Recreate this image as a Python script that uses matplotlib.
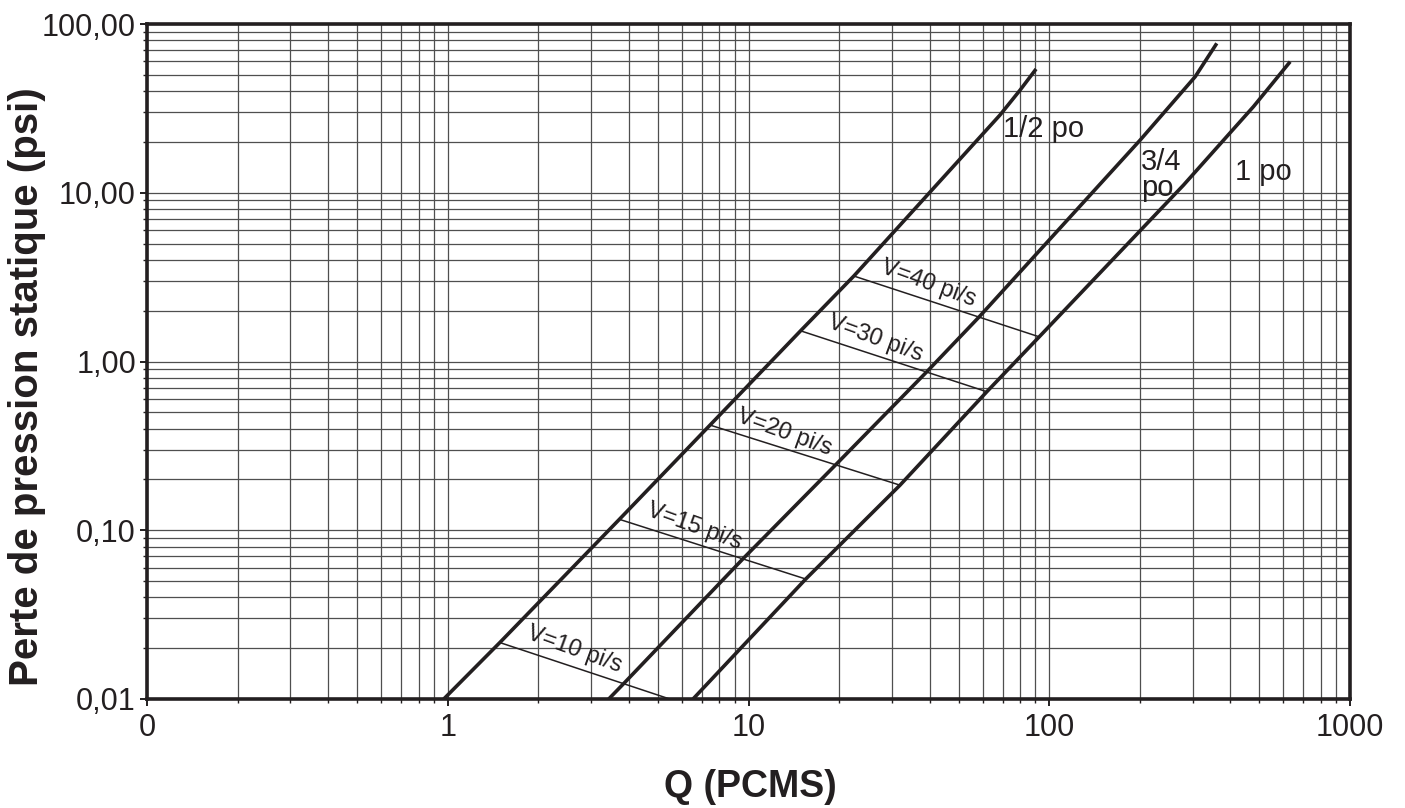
import matplotlib
matplotlib.use("Agg")
import matplotlib.pyplot as plt
from matplotlib.ticker import FixedLocator, LogLocator, NullFormatter

plt.rcParams['font.family'] = ['Liberation Sans', 'DejaVu Sans']

# ---- data ----
q_half = [0.97, 1.49, 3.72, 7.45, 14.9, 22.4, 68.6, 80.0, 90.4]
p_half = [0.01, 0.0216, 0.116, 0.42, 1.52, 3.21, 28.9, 40.6, 54.1]

q_3q = [3.43, 3.89, 9.62, 19.7, 39.2, 58.5, 200.5, 305.6, 360.6]
p_3q = [0.01, 0.0126, 0.0682, 0.249, 0.871, 1.84, 20.5, 48.7, 76.8]

q_one = [6.54, 15.5, 31.9, 62.0, 92.6, 279.5, 477.6, 632.5]
p_one = [0.01, 0.0514, 0.185, 0.662, 1.40, 11.1, 32.4, 59.8]

vel_labels = ["V=10 pi/s", "V=15 pi/s", "V=20 pi/s", "V=30 pi/s", "V=40 pi/s"]
vel_q_start = [1.49, 3.72, 7.45, 14.9, 22.4]
vel_p_start = [0.0216, 0.1161, 0.42, 1.52, 3.21]
vel_q_end = [5.47, 15.5, 31.9, 62.0, 92.6]
vel_p_end = [0.01, 0.0514, 0.185, 0.662, 1.40]

x_ticks = [0.1, 1, 10, 100, 1000]
x_ticklabels = ["0", "1", "10", "100", "1000"]
y_ticks = [0.01, 0.1, 1, 10, 100]
y_ticklabels = ["0,01", "0,10", "1,00", "10,00", "100,00"]

INK = '#231f20'

# ---- figure ----
fig = plt.figure(figsize=(14.05, 8.08), dpi=100)
ax = fig.add_axes([147/1405, 109/808, 1203/1405, 675/808])
ax.set_xscale('log')
ax.set_yscale('log')
ax.set_xlim(0.1, 1000)
ax.set_ylim(0.01, 100)

ax.xaxis.set_major_locator(FixedLocator(x_ticks))
ax.yaxis.set_major_locator(FixedLocator(y_ticks))
ax.set_xticklabels(x_ticklabels)
ax.set_yticklabels(y_ticklabels)
ax.xaxis.set_minor_locator(LogLocator(base=10, subs=range(2, 10), numticks=20))
ax.yaxis.set_minor_locator(LogLocator(base=10, subs=range(2, 10), numticks=20))
ax.xaxis.set_minor_formatter(NullFormatter())
ax.yaxis.set_minor_formatter(NullFormatter())

ax.grid(which='both', color='#4f4f4f', lw=0.9, zorder=0)
ax.set_axisbelow(True)

for s in ax.spines.values():
    s.set_linewidth(2.6)
    s.set_color(INK)

ax.tick_params(which='major', direction='out', length=5, width=1.4, color=INK,
               labelsize=22, labelcolor=INK)
ax.tick_params(which='minor', direction='out', length=3, width=1.0, color=INK)
ax.tick_params(axis='x', which='major', pad=5)
ax.tick_params(axis='y', which='major', pad=3)

# curves
for q, p in [(q_half, p_half), (q_3q, p_3q), (q_one, p_one)]:
    ax.plot(q, p, color=INK, lw=2.6, solid_capstyle='butt', zorder=3)

# velocity lines and labels
for lab, qs, ps, qe, pe in zip(vel_labels, vel_q_start, vel_p_start, vel_q_end, vel_p_end):
    ax.plot([qs, qe], [ps, pe], color=INK, lw=1.1, zorder=3)
    ax.annotate(lab, xy=(qs, ps), xytext=(26, 4), textcoords='offset pixels',
                rotation=-20, rotation_mode='anchor', ha='left', va='baseline',
                fontsize=17, color=INK, zorder=4)

# curve labels
ax.text(70.3, 21.4, "1/2 po", fontsize=21, color=INK, ha='left', va='baseline')
ax.text(202, 18.4, "3/4\npo", fontsize=21, color=INK, ha='left', va='top',
        linespacing=0.9)
ax.text(415, 11.9, "1 po", fontsize=21, color=INK, ha='left', va='baseline')

# axis titles
fig.text(750/1405, 1 - 797/808, "Q (PCMS)", fontsize=27, fontweight='bold',
         color=INK, ha='center', va='baseline')
fig.text(27/1405, 1 - 386.5/808, "Perte de pression statique (psi)", fontsize=29,
         fontweight='bold', color=INK, ha='center', va='center', rotation=90)

fig.savefig("out.png", dpi=100)
